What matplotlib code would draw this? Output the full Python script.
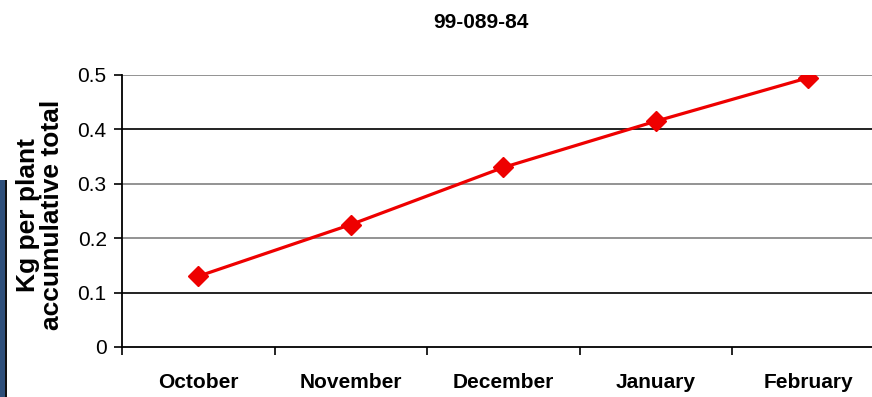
import matplotlib
matplotlib.use("Agg")
import matplotlib.pyplot as plt
from matplotlib.patches import Rectangle

months = ["October", "November", "December", "January", "February"]
kg_per_plant = [0.13, 0.225, 0.33, 0.415, 0.495]
y_ticks = [0, 0.1, 0.2, 0.3, 0.4, 0.5]
y_tick_labels = ["0", "0.1", "0.2", "0.3", "0.4", "0.5"]
title = "99-089-84"
y_label = "Kg per plant\naccumulative total"

plt.rcParams["font.family"] = ["Liberation Sans", "DejaVu Sans"]

fig = plt.figure(figsize=(8.72, 3.97), dpi=100)
fig.patch.set_facecolor("white")

# plot area runs slightly past the right edge of the canvas
ax = fig.add_axes([122 / 872, 1 - 347 / 397, 762.5 / 872, 272 / 397])
ax.set_xlim(-0.5, len(months) - 0.5)
ax.set_ylim(0, 0.5)

# horizontal gridlines
grid_colors = {0.1: "#111111", 0.2: "#8a8a8a", 0.3: "#8a8a8a", 0.4: "#111111", 0.5: "#8a8a8a"}
for yv, c in grid_colors.items():
    ax.axhline(yv, color=c, lw=1.3, zorder=1)

x = list(range(len(months)))
ax.plot(x, kg_per_plant, color="#ee0000", lw=2.3, marker="D", ms=10,
        markerfacecolor="#ee0000", markeredgecolor="#ee0000", zorder=3)

for side in ("top", "right"):
    ax.spines[side].set_visible(False)
for side in ("left", "bottom"):
    ax.spines[side].set_color("black")
    ax.spines[side].set_linewidth(1.3)

ax.set_yticks(y_ticks)
ax.set_yticklabels(y_tick_labels, fontsize=15)
ax.tick_params(axis="y", direction="out", length=6, width=1.2, pad=5, colors="black")

# category boundaries carry the tick marks, names sit between them
ax.set_xticks([i - 0.5 for i in range(len(months) + 1)])
ax.set_xticklabels([])
ax.set_xticks(x, minor=True)
ax.set_xticklabels(months, minor=True, fontsize=15, fontweight="bold")
ax.tick_params(axis="x", which="major", direction="out", length=6, width=1.2)
ax.tick_params(axis="x", which="minor", length=0, pad=19)

fig.text(40 / 872, 1 - 215 / 397, y_label, rotation=90, ha="center", va="center",
         multialignment="center", fontsize=19, fontweight="bold", linespacing=0.95)

fig.text(481 / 872, 1 - 23 / 397, title, ha="center", va="center",
         fontsize=15, fontweight="bold", family=["Liberation Sans Narrow", "Liberation Sans", "DejaVu Sans"])

# blue strip along the left border
fig.patches.append(Rectangle((0, 0), 5 / 872, 1 - 180 / 397, transform=fig.transFigure,
                             facecolor="#2e4f7a", edgecolor="none"))
fig.patches.append(Rectangle((5 / 872, 0), 1.5 / 872, 1 - 180 / 397, transform=fig.transFigure,
                             facecolor="#111111", edgecolor="none"))

fig.savefig("out.png", dpi=100)
